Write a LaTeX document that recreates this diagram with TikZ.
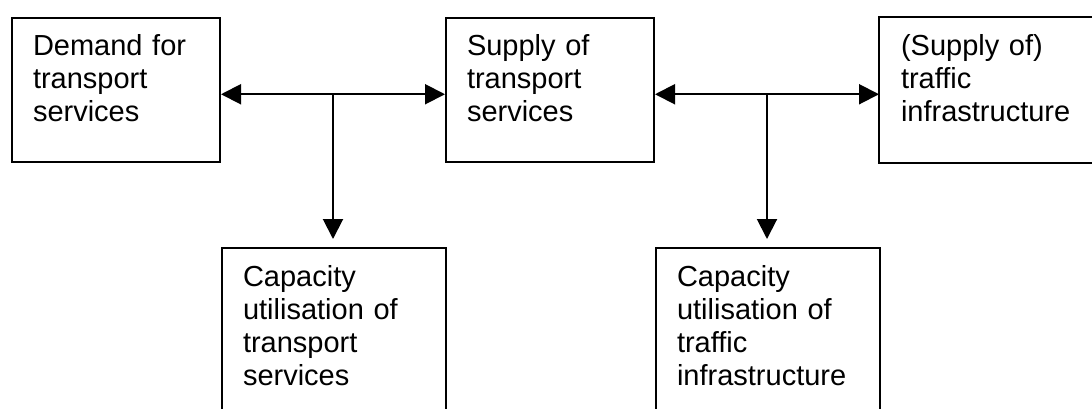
\documentclass[tikz,border=0pt]{standalone}
\usepackage{fontspec}
\setmainfont{Liberation Sans}
\usetikzlibrary{positioning,arrows.meta}

\begin{document}
\begin{tikzpicture}[x=1pt, y=-1pt,
                    box/.style={draw, line width=2pt, anchor=north west, inner xsep=21pt, inner ysep=0pt,
                                align=left, text height=38pt, text depth=106.5pt,
                                font=\fontsize{29}{33}\selectfont},
                    topbox/.style={box, text width=166pt},
                    edgebox/.style={box, draw=none, text width=166pt},
                    lowbox/.style={box, text width=182pt, text depth=140pt},
                    frame/.style={line width=2pt},
                    both/.style={line width=2pt, {Triangle[length=20pt,width=20pt]}-{Triangle[length=20pt,width=20pt]}},
                    down/.style={line width=2pt, -{Triangle[length=20pt,width=20pt]}},
                ]
                \useasboundingbox (0,0) rectangle (1092,408);
                \clip (0,0) rectangle (1092,408);
                %Nodes
                \node[topbox] (demand) at (11,16.5)          {Demand for\\transport\\services};
                \node[topbox] (supply) [right=224pt of demand] {Supply of\\transport\\services};
                \node[edgebox] (infra) [right=224pt of supply] {(Supply of)\\traffic\\infrastructure};
                \node[lowbox] (capserv)  [below right=84pt and 0pt of demand.south east] {Capacity\\utilisation of\\transport\\services};
                \node[lowbox] (capinfra) [below right=84pt and 0pt of supply.south east] {Capacity\\utilisation of\\traffic\\infrastructure};
                % open frame, runs on past the right margin
                \draw[frame] ([xshift=60pt]infra.north east) -- (infra.north west) -- (infra.south west) -- ([xshift=60pt]infra.south east);
                %Links
                \draw[both] ([yshift=-4.5pt]demand.east) -- coordinate (j1) ([yshift=-4.5pt]supply.west);
                \draw[both] ([yshift=-4.5pt]supply.east) -- coordinate (j2) ([yshift=-4.5pt]infra.west);
                \draw[down] (j1) -- ([yshift=8pt]j1 |- capserv.north);
                \draw[down] (j2) -- ([yshift=8pt]j2 |- capinfra.north);
            \end{tikzpicture}
\end{document}
